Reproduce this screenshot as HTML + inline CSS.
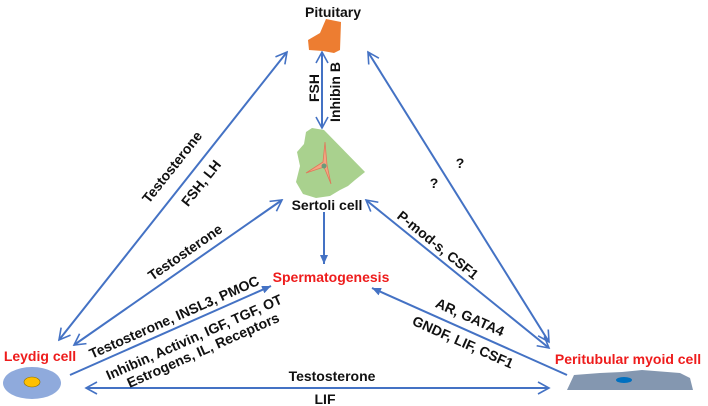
<!DOCTYPE html>
<html><head><meta charset="utf-8"><style>
html,body{margin:0;padding:0;background:#fff;width:708px;height:406px;overflow:hidden}
svg{display:block}
text{font-family:"Liberation Sans",sans-serif;font-weight:bold;font-size:14px;fill:#111}
.r{fill:#ee1c1c}
</style></head><body>
<svg width="708" height="406" viewBox="0 0 708 406">
<defs>
<marker id="a" markerWidth="14" markerHeight="14" refX="12" refY="7" orient="auto-start-reverse" markerUnits="userSpaceOnUse">
<path d="M1,1 L12,7 L1,13" fill="none" stroke="#4472c4" stroke-width="1.6"/>
</marker>
<marker id="f" markerWidth="10" markerHeight="10" refX="9" refY="5" orient="auto" markerUnits="userSpaceOnUse">
<path d="M0,1 L9,5 L0,9 z" fill="#4472c4"/>
</marker>
</defs>
<g stroke="#4472c4" stroke-width="2" fill="none">
<line x1="59" y1="340" x2="287" y2="52" marker-start="url(#a)" marker-end="url(#a)"/>
<line x1="74" y1="345" x2="282" y2="200" marker-start="url(#a)" marker-end="url(#a)"/>
<line x1="70" y1="375" x2="271" y2="286" marker-end="url(#f)"/>
<line x1="86" y1="388" x2="549" y2="388" marker-start="url(#a)" marker-end="url(#a)"/>
<line x1="322" y1="52" x2="322" y2="128" marker-start="url(#a)" marker-end="url(#a)"/>
<line x1="324" y1="212" x2="324" y2="264" marker-end="url(#f)"/>
<line x1="368" y1="52" x2="549" y2="342" marker-start="url(#a)" marker-end="url(#a)"/>
<line x1="549" y1="348" x2="366" y2="200" marker-start="url(#a)" marker-end="url(#a)"/>
<line x1="567" y1="375" x2="372" y2="288" marker-end="url(#f)"/>
</g>
<path d="M326,19 L341,22 L340,50 L334,53 L323,51 L309,50 L308,40 L320,33 Z" fill="#ed7d31"/>
<path d="M312,128 L324,130 L365,172 L355,180 L348,186 L340,190 L330,196 L316,198 L303,194 L296,182 L300,166 L297,152 L304,144 L306,132 Z" fill="#a9d18e"/>
<path d="M325,142 L323,162 L306,173 L324,167 L331,184 L327,165 Z" fill="#f4a582" stroke="#e0785a" stroke-width="0.8"/>
<circle cx="324" cy="166" r="2.5" fill="#6a9a7a"/>
<ellipse cx="32" cy="383" rx="29" ry="16" fill="#8faadc"/>
<ellipse cx="32" cy="382" rx="8" ry="5" fill="#ffc000" stroke="#8a6d00" stroke-width="0.6"/>
<path d="M567,390 L574,375 L600,373 L622,372 L642,370 L680,373 L690,378 L693,390 Z" fill="#8497b0"/>
<ellipse cx="624" cy="380" rx="8" ry="3" fill="#0070c0"/>
<text x="333" y="17" text-anchor="middle" font-size="18">Pituitary</text>
<text x="327" y="210" text-anchor="middle" font-size="17.5">Sertoli cell</text>
<text x="331" y="282" text-anchor="middle" font-size="17.5" class="r">Spermatogenesis</text>
<text x="40" y="361" text-anchor="middle" font-size="17.5" class="r">Leydig cell</text>
<text x="628" y="364" text-anchor="middle" font-size="17" class="r">Peritubular myoid cell</text>
<text transform="translate(172,167) rotate(-51.6)" text-anchor="middle" dy="5">Testosterone</text>
<text transform="translate(201,183) rotate(-51.6)" text-anchor="middle" dy="5">FSH, LH</text>
<text transform="translate(185,252) rotate(-34.9)" text-anchor="middle" dy="5">Testosterone</text>
<text transform="translate(174,317) rotate(-23.9)" text-anchor="middle" dy="5">Testosterone, INSL3, PMOC</text>
<text transform="translate(194,337) rotate(-23.9)" text-anchor="middle" dy="5">Inhibin, Activin, IGF, TGF, OT</text>
<text transform="translate(203,350) rotate(-23.9)" text-anchor="middle" dy="5">Estrogens, IL, Receptors</text>
<text transform="translate(314,88) rotate(-90)" text-anchor="middle" dy="5">FSH</text>
<text transform="translate(335,92) rotate(-90)" text-anchor="middle" dy="5">Inhibin B</text>
<text x="460" y="168" text-anchor="middle">?</text>
<text x="434" y="188" text-anchor="middle">?</text>
<text transform="translate(438,245) rotate(39)" text-anchor="middle" dy="5">P-mod-s, CSF1</text>
<text transform="translate(470,317) rotate(24)" text-anchor="middle" dy="5">AR, GATA4</text>
<text transform="translate(463,342) rotate(24)" text-anchor="middle" dy="5">GNDF, LIF, CSF1</text>
<text x="332" y="381" text-anchor="middle">Testosterone</text>
<text x="325" y="404" text-anchor="middle">LIF</text>
</svg>
</body></html>
